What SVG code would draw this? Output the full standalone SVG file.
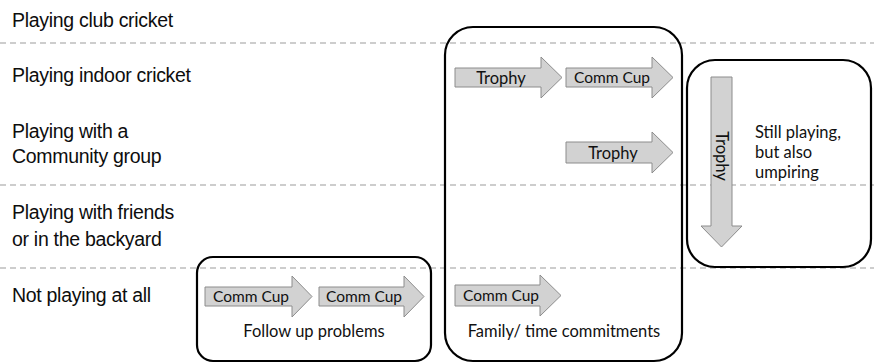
<svg xmlns="http://www.w3.org/2000/svg" width="874" height="363" viewBox="0 0 874 363">
<style>
.bg{fill:#ffffff}
.div{stroke:#bdbdbd;stroke-width:1.3;stroke-dasharray:6 4;fill:none}
.lbl{font-family:"Liberation Sans",Arial,sans-serif;font-size:19.5px;letter-spacing:-0.3px;fill:#0d0d0d}
.box{fill:none;stroke:#000;stroke-width:2.2}
.arr{fill:#d2d2d2;stroke:#8c8c8c;stroke-width:1}
.at{font-family:Lato,"Open Sans",sans-serif;font-size:16.5px;fill:#111;text-anchor:middle}
.cc{font-size:15.5px}
.bt{font-family:Lato,"Open Sans",sans-serif;font-size:16.5px;fill:#111}
</style>
<rect class="bg" x="0" y="0" width="874" height="363"/>
<g id="dividers">
<line class="div" x1="0" y1="43" x2="874" y2="43"/>
<line class="div" x1="0" y1="185" x2="874" y2="185"/>
<line class="div" x1="0" y1="268" x2="874" y2="268"/>
</g>
<g id="row-labels">
<text class="lbl" x="12" y="27">Playing club cricket</text>
<text class="lbl" x="12" y="82">Playing indoor cricket</text>
<text class="lbl" x="12" y="138">Playing with a</text>
<text class="lbl" x="12" y="163">Community group</text>
<text class="lbl" x="12" y="219">Playing with friends</text>
<text class="lbl" x="12" y="246">or in the backyard</text>
<text class="lbl" x="12" y="302">Not playing at all</text>
</g>
<g id="box-follow-up">
<rect class="box" x="197" y="257" width="234" height="104" rx="16"/>
<text class="at" x="314" y="337">Follow up problems</text>
</g>
<g id="box-family">
<rect class="box" x="445" y="27" width="237" height="334" rx="28"/>
<text class="at" x="564" y="337">Family/ time commitments</text>
</g>
<g id="box-umpiring">
<rect class="box" x="687" y="60" width="184" height="207" rx="28"/>
<text class="bt" x="755" y="138">Still playing,</text>
<text class="bt" x="755" y="158">but also</text>
<text class="bt" x="755" y="178">umpiring</text>
</g>
<g id="connectors">
<g id="a-trophy-indoor">
<path class="arr" d="M455,68 H541 V57 L562,77.5 L541,98 V87 H455 Z"/>
<text class="at" x="501" y="83.5">Trophy</text>
</g>
<g id="a-commcup-indoor">
<path class="arr" d="M566,68 H652 V57 L673,77.5 L652,98 V87 H566 Z"/>
<text class="at cc" x="612" y="83">Comm Cup</text>
</g>
<g id="a-trophy-community">
<path class="arr" d="M566,142 H652 V132 L673,152.5 L652,173 V163 H566 Z"/>
<text class="at" x="613" y="158.5">Trophy</text>
</g>
<g id="a-commcup-family">
<path class="arr" d="M455,285 H540 V275 L561,295.5 L540,316 V306 H455 Z"/>
<text class="at cc" x="501" y="301">Comm Cup</text>
</g>
<g id="a-commcup-1">
<path class="arr" d="M205,287 H292 V276 L312,296.5 L292,317 V306 H205 Z"/>
<text class="at cc" x="251" y="302">Comm Cup</text>
</g>
<g id="a-commcup-2">
<path class="arr" d="M319,287 H404 V276 L424,296.5 L404,317 V306 H319 Z"/>
<text class="at cc" x="364" y="302">Comm Cup</text>
</g>
<g id="a-trophy-down">
<path class="arr" d="M711,77 H732 V226 H742 L721.5,247 L701,226 H711 Z"/>
<text class="at" transform="translate(716,156) rotate(90)">Trophy</text>
</g>
</g>
</svg>
